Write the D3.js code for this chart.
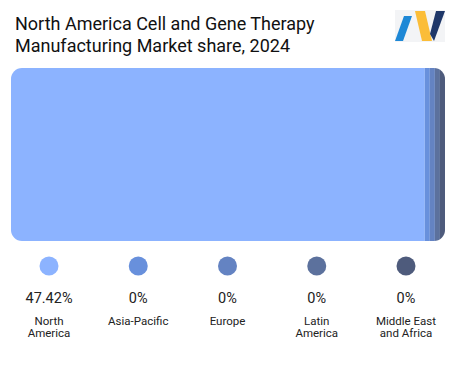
<!DOCTYPE html>
<html>
<head>
<meta charset="utf-8">
<script src="https://cdn.jsdelivr.net/npm/d3@7"></script>
<style>
  body { margin: 0; background: #fff; }
  svg { display: block; font-family: Roboto, "Noto Sans", sans-serif; }
</style>
</head>
<body>
<svg id="chart"></svg>
<script>
// ───────────────── DATA ─────────────────
const regions = ["North America", "Asia-Pacific", "Europe", "Latin America", "Middle East and Africa"];
const shareLabels = ["47.42%", "0%", "0%", "0%", "0%"];
// bar widths (0% slices still drawn as thin strips)
const barValues = [47.42, 0.58, 0.58, 0.58, 0.58];
const labelLines = [["North", "America"], ["Asia-Pacific"], ["Europe"], ["Latin", "America"], ["Middle East", "and Africa"]];
const colors = ["#8cb3ff", "#6890dc", "#6483c2", "#5c719d", "#4e5b7c"];

// ───────────────── SIZE ─────────────────
const W = 458, H = 376;
const bar = { x0: 11, x1: 445, y0: 68, y1: 241, r: 11 };

const svg = d3.select("#chart")
  .attr("width", W)
  .attr("height", H)
  .attr("viewBox", `0 0 ${W} ${H}`);

// ───── TITLE ─────
svg.append("text")
  .attr("x", 15).attr("y", 30)
  .attr("fill", "#111")
  .style("font-size", "18px")
  .selectAll("tspan")
  .data(["North America Cell and Gene Therapy", "Manufacturing Market share, 2024"])
  .join("tspan")
  .attr("x", 15)
  .attr("dy", (d, i) => i ? 22 : 0)
  .text(d => d);

// ───── LOGO ─────
const logo = svg.append("g").attr("transform", "translate(395,10)");
logo.append("rect").attr("width", 50).attr("height", 32).attr("fill", "#f3f4f6");
logo.append("path").attr("d", "M9,6 L17,6 L8,31 L0,31 Z").attr("fill", "#1e88d6");
logo.append("path").attr("d", "M20,1 L30,1 L37,31 L27,31 Z").attr("fill", "#fbbd38");
logo.append("path").attr("d", "M41,1 L50,1 L39,31 L35,24 Z").attr("fill", "#1e3769");

// ───── BAR ─────
const total = d3.sum(barValues);
const x = d3.scaleLinear().domain([0, total]).range([bar.x0, bar.x1]);
const starts = d3.cumsum([0].concat(barValues));

svg.append("clipPath").attr("id", "barClip")
  .append("rect")
  .attr("x", bar.x0).attr("y", bar.y0)
  .attr("width", bar.x1 - bar.x0).attr("height", bar.y1 - bar.y0)
  .attr("rx", bar.r);

svg.append("g")
  .attr("clip-path", "url(#barClip)")
  .selectAll("rect")
  .data(barValues)
  .join("rect")
  .attr("x", (d, i) => x(starts[i]))
  .attr("y", bar.y0)
  .attr("width", (d, i) => x(starts[i] + d) - x(starts[i]))
  .attr("height", bar.y1 - bar.y0)
  .attr("fill", (d, i) => colors[i]);

// ───── LEGEND ─────
const lx = d3.scalePoint().domain(regions).range([49, 406]);

const item = svg.append("g")
  .selectAll("g")
  .data(regions)
  .join("g")
  .attr("transform", d => `translate(${lx(d)},0)`);

item.append("circle")
  .attr("cy", 266).attr("r", 9.5)
  .attr("fill", (d, i) => colors[i]);

item.append("text")
  .attr("y", 303)
  .attr("text-anchor", "middle")
  .attr("fill", "#222")
  .style("font-size", "14.5px")
  .text((d, i) => shareLabels[i]);

item.append("text")
  .attr("text-anchor", "middle")
  .attr("fill", "#222")
  .style("font-size", "11.5px")
  .selectAll("tspan")
  .data((d, i) => labelLines[i])
  .join("tspan")
  .attr("x", 0)
  .attr("y", (d, j) => 325 + j * 12)
  .text(d => d);
</script>
</body>
</html>
